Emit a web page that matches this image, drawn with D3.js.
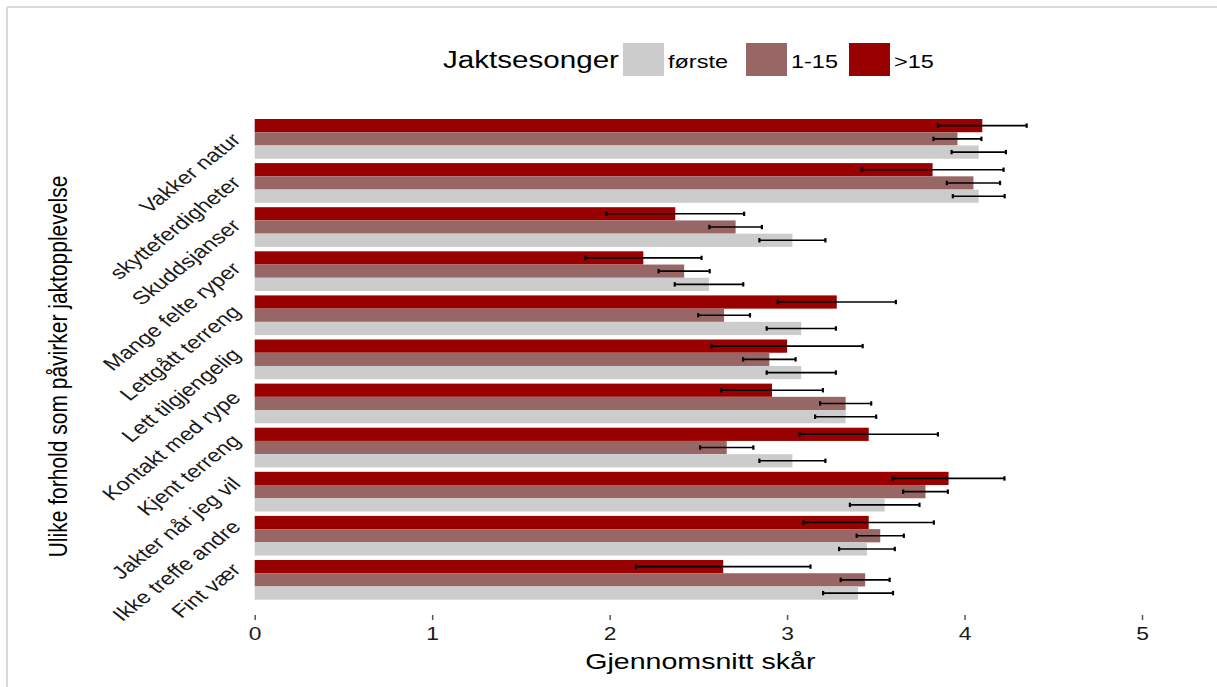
<!DOCTYPE html>
<html>
<head>
<meta charset="utf-8">
<script src="https://cdn.jsdelivr.net/npm/d3@7"></script>
<style>
  html, body { margin: 0; padding: 0; background: #fff; }
  svg { display: block; font-family: "Liberation Sans", Arial, sans-serif; }
</style>
</head>
<body>
<svg id="chart" width="1217" height="687"></svg>
<script>
// ---- data ----
const categories = ["Vakker natur", "skytteferdigheter", "Skuddsjanser", "Mange felte ryper",
  "Lettgått terreng", "Lett tilgjengelig", "Kontakt med rype", "Kjent terreng",
  "Jakter når jeg vil", "Ikke treffe andre", "Fint vær"];
const seriesNames = [">15", "1-15", "første"];          // top to bottom inside a group
const legendOrder = ["første", "1-15", ">15"];
const seriesColors = ["#990000", "#996666", "#cccccc"];
const meanHigh   = [4.10, 3.82, 2.37, 2.19, 3.28, 3.00, 2.915, 3.46, 3.91, 3.46, 2.64];
const errHigh    = [0.25, 0.40, 0.388, 0.328, 0.333, 0.426, 0.287, 0.39, 0.315, 0.367, 0.492];
const meanMid    = [3.96, 4.05, 2.71, 2.42, 2.645, 2.90, 3.33, 2.66, 3.78, 3.525, 3.44];
const errMid     = [0.135, 0.15, 0.148, 0.144, 0.146, 0.148, 0.144, 0.15, 0.126, 0.133, 0.138];
const meanForste = [4.08, 4.08, 3.03, 2.56, 3.08, 3.08, 3.33, 3.03, 3.55, 3.45, 3.40];
const errForste  = [0.153, 0.146, 0.186, 0.193, 0.195, 0.195, 0.172, 0.186, 0.196, 0.157, 0.197];
const xTicks = [0, 1, 2, 3, 4, 5];
const xTitle = "Gjennomsnitt skår";
const yTitle = "Ulike forhold som påvirker jaktopplevelse";
const legendTitle = "Jaktsesonger";

const means = [meanHigh, meanMid, meanForste];
const errs = [errHigh, errMid, errForste];

// ---- layout ----
const SX = 1.27; // horizontal stretch of text seen in the reference
const svg = d3.select("#chart");

// outer frame (top and left edges visible)
svg.append("line").attr("x1", 7).attr("x2", 1217).attr("y1", 7).attr("y2", 7)
  .attr("stroke", "#d9d9d9").attr("stroke-width", 2);
svg.append("line").attr("x1", 7).attr("x2", 7).attr("y1", 7).attr("y2", 687)
  .attr("stroke", "#d9d9d9").attr("stroke-width", 2);

const x = d3.scaleLinear().domain([0, 5]).range([254.7, 1142]);
const y = d3.scaleBand().domain(categories).range([116.8, 601.9]).paddingInner(0.1).paddingOuter(0.05);
const ySub = d3.scaleBand().domain(seriesNames).range([0, y.bandwidth()]);
const color = d3.scaleOrdinal().domain(seriesNames).range(seriesColors);
const yc = d => y(d) + y.bandwidth() / 2;
// tick-label anchors (the label column is slightly tighter than the bar column)
const yLab = d3.scaleLinear().domain([yc(categories[0]), yc(categories[categories.length - 1])]).range([141, 571]);

const rows = [];
categories.forEach((c, i) => {
  seriesNames.forEach((s, j) => {
    rows.push({ cat: c, ser: s, mean: means[j][i], err: errs[j][i] });
  });
});

const g = svg.append("g");
g.selectAll("rect.bar").data(rows).join("rect")
  .attr("class", "bar")
  .attr("x", x(0))
  .attr("y", d => y(d.cat) + ySub(d.ser))
  .attr("width", d => x(d.mean) - x(0))
  .attr("height", ySub.bandwidth())
  .attr("fill", d => color(d.ser));

// error bars
const eb = g.selectAll("g.eb").data(rows).join("g").attr("class", "eb");
const ymid = d => y(d.cat) + ySub(d.ser) + ySub.bandwidth() / 2;
eb.append("line")
  .attr("x1", d => x(d.mean - d.err)).attr("x2", d => x(d.mean + d.err))
  .attr("y1", ymid).attr("y2", ymid)
  .attr("stroke", "#000").attr("stroke-width", 1.6);
[-1, 1].forEach(sgn => {
  eb.append("line")
    .attr("x1", d => x(d.mean + sgn * d.err)).attr("x2", d => x(d.mean + sgn * d.err))
    .attr("y1", d => ymid(d) - 2.2).attr("y2", d => ymid(d) + 2.2)
    .attr("stroke", "#000").attr("stroke-width", 2.2);
});

// x axis (ticks + labels)
const xAxis = d3.axisBottom(x).tickValues(xTicks).tickFormat(d3.format("d")).tickSize(5).tickPadding(0);
const ax = svg.append("g").attr("transform", "translate(0,615)").call(xAxis);
ax.select(".domain").remove();
ax.selectAll(".tick line").attr("stroke", "#555").attr("stroke-width", 1.5);
ax.selectAll(".tick text")
  .attr("y", 0).attr("dy", null)
  .attr("transform", `translate(0,25) scale(${SX},1)`)
  .attr("font-size", 18).attr("fill", "#1a1a1a")
  .attr("font-family", "Liberation Sans, Arial, sans-serif");

// x title
svg.append("text").attr("text-anchor", "middle")
  .attr("transform", `translate(${(x(0) + x(5)) / 2 + 2},669) scale(${SX},1)`)
  .attr("font-size", 22.5).attr("fill", "#000").text(xTitle);

// y labels (rotated 45°)
svg.append("g").selectAll("text").data(categories).join("text")
  .attr("text-anchor", "end")
  .attr("transform", d => `translate(242,${yLab(yc(d))}) scale(${SX},1) rotate(-45)`)
  .attr("font-size", 18.5).attr("fill", "#1a1a1a")
  .text(d => d);

// y title
svg.append("text").attr("text-anchor", "middle")
  .attr("transform", `translate(67,366.5) scale(${SX},1) rotate(-90)`)
  .attr("font-size", 21).attr("fill", "#000").text(yTitle);

// legend
const lg = svg.append("g");
lg.append("text").attr("transform", `translate(443,68) scale(${SX},1)`)
  .attr("font-size", 23.3).attr("fill", "#000").text(legendTitle);
const legX = [623, 746, 849];
legendOrder.forEach((s, i) => {
  lg.append("rect").attr("x", legX[i]).attr("y", 43).attr("width", 41).attr("height", 33)
    .attr("fill", color(s));
  lg.append("text").attr("transform", `translate(${legX[i] + 45},68) scale(${SX},1)`)
    .attr("font-size", 18.5).attr("fill", "#000").text(s);
});
</script>
</body>
</html>
